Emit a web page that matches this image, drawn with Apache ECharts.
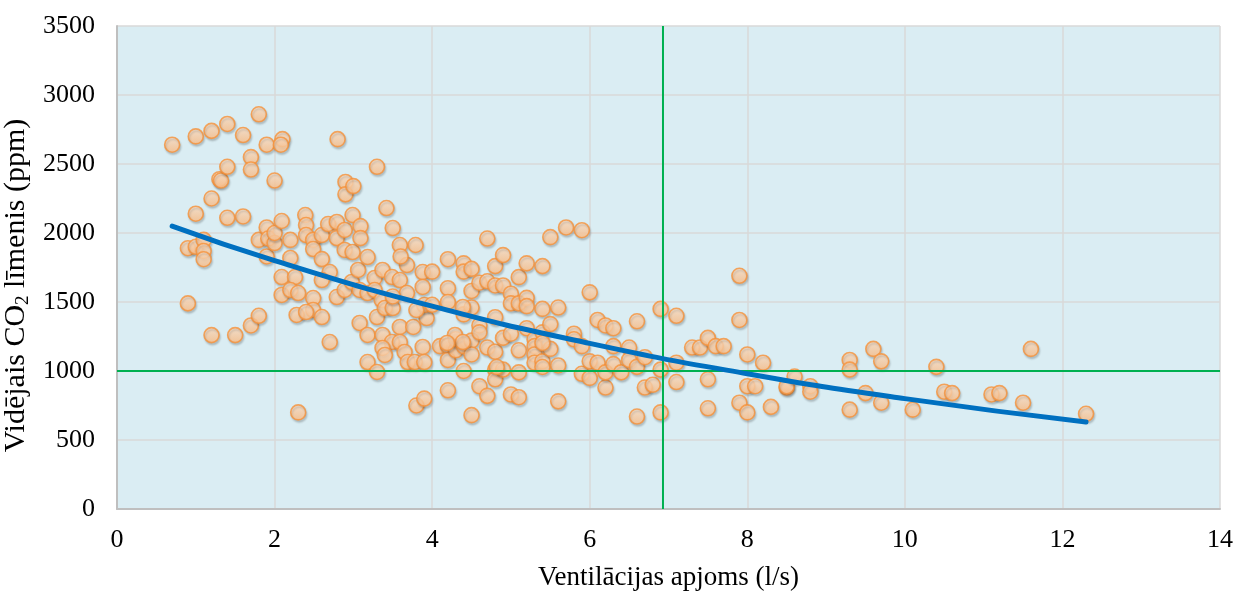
<!DOCTYPE html>
<html>
<head>
<meta charset="utf-8">
<script src="https://cdn.jsdelivr.net/npm/echarts@6/dist/echarts.min.js"></script>
<style>
html,body{margin:0;padding:0;background:#fff;}
#chart{width:1238px;height:591px;}
</style>
</head>
<body>
<div id="chart"></div>
<script>
// Measured points: [ventilation l/s, CO2 ppm]
const pointsBand1 = [
  [0.7,2640],[0.9,1890],[0.9,1490],[1.0,2700],[1.0,2140],[1.0,1900],[1.1,1950],[1.1,1870],[1.1,1810],
  [1.2,2740],[1.2,2250],[1.2,1260],[1.3,2390],[1.32,2380],[1.4,2790],[1.4,2480],[1.4,2110],[1.5,1260],
  [1.6,2710],[1.6,2120],[1.7,2550],[1.7,2460],[1.7,1330],[1.8,2860],[1.8,1950],[1.8,1400],
  [1.9,2640],[1.9,2040],[1.9,1830],[1.92,1960],[2.0,2380],[2.1,2680],[2.08,2640],[2.3,700]
];
const pointsBand2 = [
  [2.0,1927],[2.0,2000],[2.09,2087],[2.09,1681],[2.09,1551],[2.2,1950],[2.2,1819],[2.26,1681],
  [2.2,1587],[2.3,1565],[2.28,1406],[2.39,2130],[2.4,2058],[2.4,1985],[2.49,1950],[2.49,1884],
  [2.49,1529],[2.49,1442],[2.4,1427],[2.6,1985],[2.68,2065],[2.6,1811],[2.7,1717],[2.6,1659],
  [2.6,1391],[2.7,1210],[2.79,2080],[2.79,1963],[2.89,2022],[2.89,1877],[2.79,1536],[2.89,1587],
  [2.8,2680],[2.9,2370],[2.9,2280],[2.99,2130],[2.99,1862],[2.98,1645]
];
const pointsBand3 = [
  [3.0,2340],[3.09,2050],[3.09,1963],[3.06,1732],[3.08,1587],[3.08,1348],[3.18,1826],[3.27,1674],
  [3.18,1565],[3.27,1587],[3.18,1261],[3.18,1065],[3.3,993],[3.3,1391],[3.3,2480],[3.42,2181],
  [3.5,2036],[3.37,1732],[3.49,1681],[3.36,1514],[3.37,1261],[3.49,1210],[3.37,1167],[3.4,1116],
  [3.4,1456],[3.5,1456],[3.59,1913],[3.68,1768],[3.59,1659],[3.59,1319],[3.59,1210],[3.65,1138],
  [3.69,1065],[3.68,1565],[3.79,1913],[3.88,1717],[3.76,1319],[3.78,1065],[3.88,1174],[3.93,1384],
  [3.9,1478],[3.8,1442],[3.88,1609],[3.8,750],[3.9,800],[3.9,1065],[3.6,1830],[3.5,1540]
];
const pointsBand4 = [
  [4.0,1720],[4.0,1480],[4.1,1180],[4.2,1810],[4.2,1600],[4.2,1500],[4.2,1180],[4.2,1080],
  [4.2,860],[4.3,1150],[4.3,1230],[4.4,1780],[4.4,1720],[4.4,1410],[4.4,1180],[4.4,1000],
  [4.5,1740],[4.5,1580],[4.5,1460],[4.5,1220],[4.5,1120],[4.5,680],[4.39,1464],[4.29,1261],
  [4.39,1210],[4.19,1203]
];
const pointsBand5 = [
  [4.6,1640],[4.6,1330],[4.6,1280],[4.6,890],[4.7,1960],[4.7,1650],[4.7,1170],[4.7,820],
  [4.8,1760],[4.8,1620],[4.8,1390],[4.8,1140],[4.8,1010],[4.8,940],[4.9,1840],[4.9,1620],
  [4.9,1240],[4.9,1010],[5.0,1560],[5.0,1490],[5.0,1270],[5.0,830],[5.1,1680],[5.1,1490],
  [5.1,1150],[5.1,990],[5.1,810],[5.2,1780],[5.2,1530],[5.2,1310],[5.2,1470],[5.3,1230],
  [5.3,1180],[5.3,1120],[5.3,1060],[5.4,1760],[5.4,1450],[5.4,1280],[5.4,1070],[5.5,1970],
  [5.5,1340],[5.5,1160],[5.4,1203],[4.82,1029],[5.4,1029]
];
const pointsBand6 = [
  [5.6,1460],[5.6,1040],[5.6,780],[5.7,2040],[5.8,1270],[5.8,1230],[5.9,2020],[5.9,1180],
  [5.9,980],[6.0,1570],[6.0,1070],[6.0,950],[6.1,1370],[6.1,1060],[6.2,1330],[6.2,880],
  [6.2,990],[6.3,1310],[6.3,1180],[6.3,1050],[6.4,990],[6.5,1170],[6.5,1080],[6.6,1360],
  [6.6,1030],[6.6,670],[6.7,880],[6.7,1100],[6.8,900],[6.9,1450],[6.9,1010],[6.9,700]
];
const pointsBand7 = [
  [7.1,1400],[7.1,1060],[7.1,920],[7.3,1170],[7.4,1170],[7.5,1240],[7.5,940],[7.5,730],
  [7.6,1180],[7.7,1180],[7.9,1690],[7.9,1370],[7.9,770],[8.0,1120],[8.0,890],[8.0,700],
  [8.1,890],[8.2,1060],[8.3,740],[8.5,880],[8.5,890],[8.6,960],[8.8,890],[8.8,850],
  [9.3,1080],[9.3,1010],[9.3,720],[9.5,840],[9.6,1160],[9.7,1070],[9.7,770],[10.1,720],
  [10.4,1030],[10.5,850],[10.6,840],[11.1,830],[11.2,840],[11.5,770],[11.6,1160],[12.3,690]
];
// Trend curve
const trendX = [0.7, 2, 4, 6, 8, 10, 12.3];
const trendY = [2050, 1800, 1470, 1200, 980, 800, 630];
// Reference lines
const limitX = 6.93;
const limitY = 1000;
const xTicks = [0, 14, 2];
const yTicks = [0, 3500, 500];

const allPoints = [].concat(pointsBand1, pointsBand2, pointsBand3, pointsBand4,
  pointsBand5, pointsBand6, pointsBand7);
const trendData = trendX.map((x, i) => [x, trendY[i]]);

const chart = echarts.init(document.getElementById('chart'), null, {renderer: 'canvas'});
const serif = '"Liberation Serif", "Times New Roman", serif';
const gridColor = '#D9D9D9';

chart.setOption({
  animation: false,
  backgroundColor: '#ffffff',
  grid: {left: 117, right: 18, top: 26, bottom: 82, show: true, backgroundColor: '#DAEDF3',
    borderWidth: 0, containLabel: false, outerBoundsMode: 'none'},
  xAxis: {
    type: 'value', min: xTicks[0], max: xTicks[1], interval: xTicks[2],
    name: 'Ventilācijas apjoms (l/s)', nameLocation: 'middle', nameGap: 55,
    nameTextStyle: {fontFamily: serif, fontSize: 27, color: '#000'},
    axisLine: {show: true, lineStyle: {color: '#BFBFBF', width: 2}},
    axisTick: {show: false},
    axisLabel: {fontFamily: serif, fontSize: 26, color: '#000', margin: 18, formatter: v => String(v)},
    splitLine: {show: true, lineStyle: {color: gridColor, width: 1.5}}
  },
  yAxis: {
    type: 'value', min: yTicks[0], max: yTicks[1], interval: yTicks[2],
    name: 'Vidējais CO{sub|2} līmenis (ppm)', nameLocation: 'middle', nameGap: 79,
    nameTextStyle: {fontFamily: serif, fontSize: 30, color: '#000', padding: [0, 36, 0, 0],
      rich: {sub: {fontFamily: serif, fontSize: 19, color: '#000', padding: [13, 0, 0, 0]}}},
    axisLine: {show: true, lineStyle: {color: '#BFBFBF', width: 2}},
    axisTick: {show: false},
    axisLabel: {fontFamily: serif, fontSize: 26, color: '#000', margin: 22, formatter: v => String(v)},
    splitLine: {show: true, lineStyle: {color: gridColor, width: 1.5}}
  },
  series: [
    {
      type: 'scatter', data: allPoints, symbol: 'circle', symbolSize: 15, z: 2,
      itemStyle: {
        color: new echarts.graphic.LinearGradient(0, 0, 0, 1, [
          {offset: 0, color: '#FFE4CC'}, {offset: 1, color: '#FFC088'}]),
        borderColor: '#F5913A', borderWidth: 1.6,
        shadowBlur: 2, shadowColor: 'rgba(0,0,0,0.2)', shadowOffsetX: 1, shadowOffsetY: 2
      }
    },
    {
      type: 'line', data: [[limitX, yTicks[0]], [limitX, yTicks[1]]], symbol: 'none', z: 3,
      lineStyle: {color: '#00B050', width: 2}
    },
    {
      type: 'line', data: [[xTicks[0], limitY], [xTicks[1], limitY]], symbol: 'none', z: 3,
      lineStyle: {color: '#00B050', width: 2}
    },
    {
      type: 'line', data: trendData, symbol: 'none', smooth: true, z: 4,
      lineStyle: {color: '#0070C0', width: 5, cap: 'round'}
    }
  ]
});
</script>
</body>
</html>
